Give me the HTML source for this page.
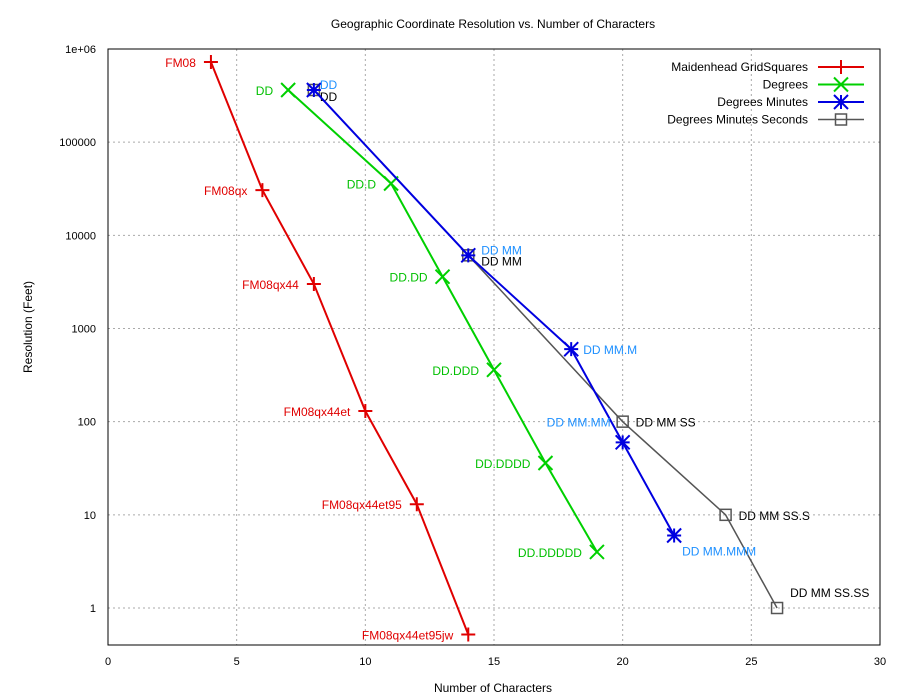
<!DOCTYPE html>
<html><head><meta charset="utf-8"><style>
body{margin:0;background:#fff}
svg{display:block;font-family:"Liberation Sans",sans-serif}
</style></head><body>
<svg id="chart" width="900" height="700">
<rect x="0" y="0" width="900" height="700" fill="#fff"/>
<text x="493" y="28" font-size="12" text-anchor="middle">Geographic Coordinate Resolution vs. Number of Characters</text>
<text x="493" y="692" font-size="12" text-anchor="middle">Number of Characters</text>
<text transform="translate(32,327) rotate(-90)" font-size="12" text-anchor="middle">Resolution (Feet)</text>
<g id="grid"></g><g id="series"></g><g id="legend"></g>
<rect x="108" y="49" width="772" height="596" fill="none" stroke="#000"/>
</svg>
<script>
const xTicks=[0,5,10,15,20,25,30];
const yTicks=[1,10,100,1000,10000,100000,1000000];
const yTickLabels=["1","10","100","1000","10000","100000","1e+06"];
const seriesNames=["Maidenhead GridSquares","Degrees","Degrees Minutes","Degrees Minutes Seconds"];
const redX=[4,6,8,10,12,14];
const redY=[725000,30600,3000,130,13,0.52];
const redLabels=["FM08","FM08qx","FM08qx44","FM08qx44et","FM08qx44et95","FM08qx44et95jw"];
const greenX=[7,11,13,15,17,19];
const greenY=[363000,36000,3600,360,36,4];
const greenLabels=["DD","DD.D","DD.DD","DD.DDD","DD.DDDD","DD.DDDDD"];
const blueX=[8,14,18,20,22];
const blueY=[363000,6100,600,60,6];
const blueLabels=["DD","DD MM","DD MM.M","DD MM.MM","DD MM.MMM"];
const grayX=[8,14,20,24,26];
const grayY=[363000,6100,100,10,1];
const grayLabels=["DD","DD MM","DD MM SS","DD MM SS.S","DD MM SS.SS"];

const L=108,R=880,T=49,B=645;
const xs=v=>L+(v-0)/30*(R-L);
const ys=v=>608-Math.log10(v)*93.17;
const NS="http://www.w3.org/2000/svg";
function mk(tag,attrs,parent,txt){const e=document.createElementNS(NS,tag);for(const k in attrs)e.setAttribute(k,attrs[k]);if(txt!==undefined)e.textContent=txt;parent.appendChild(e);return e;}
const grid=document.getElementById('grid'),ser=document.getElementById('series'),leg=document.getElementById('legend');
xTicks.forEach(t=>{const x=xs(t);
 if(t>0&&t<30){const g=mk('line',{x1:x,x2:x,y1:T,y2:B,stroke:'#aaa','stroke-dasharray':'2,3'},grid);
 
 }
 const tx=mk('text',{x:x,y:B+20,'font-size':11,'text-anchor':'middle'},grid,String(t));
 
 });
yTicks.forEach((t,i)=>{const y=ys(t);
 if(i<6){const g=mk('line',{x1:L,x2:R,y1:y,y2:y,stroke:'#aaa','stroke-dasharray':'2,3'},grid);
 
 }
 const tx=mk('text',{x:L-12,y:y+4,'font-size':11,'text-anchor':'end'},grid,yTickLabels[i]);
 
 });
function marker(type,x,y,c,p){
 const s=7;
 if(type==='plus'){mk('path',{d:`M${x-s} ${y}H${x+s}M${x} ${y-s}V${y+s}`,stroke:c,'stroke-width':2},p);}
 else if(type==='x'){mk('path',{d:`M${x-s} ${y-s}L${x+s} ${y+s}M${x-s} ${y+s}L${x+s} ${y-s}`,stroke:c,'stroke-width':2},p);}
 else if(type==='star'){mk('path',{d:`M${x-s} ${y}H${x+s}M${x} ${y-s}V${y+s}M${x-s} ${y-s}L${x+s} ${y+s}M${x-s} ${y+s}L${x+s} ${y-s}`,stroke:c,'stroke-width':2},p);}
 else{mk('rect',{x:x-5.5,y:y-5.5,width:11,height:11,fill:'none',stroke:c,'stroke-width':1.5},p);}
}
function series(X,Y,labels,color,type,name,labColor,lab){
 const g=mk('g',{},ser);
 
 
 mk('polyline',{points:X.map((v,i)=>xs(v)+','+ys(Y[i])).join(' '),fill:'none',stroke:color,'stroke-width':type==='box'?1.5:2},g);
 X.forEach((v,i)=>{marker(type,xs(v),ys(Y[i]),color,g);
  const o=lab(i);const t=mk('text',{x:xs(v)+o[0],y:ys(Y[i])+o[1],'font-size':12,fill:labColor,'text-anchor':o[2]},g,labels[i]);
  
  });
}
series(redX,redY,redLabels,'#e00000','plus','series-maidenhead','#e00000',()=>[-15,5,'end']);
series(greenX,greenY,greenLabels,'#00d000','x','series-degrees','#00c000',()=>[-15,5,'end']);
series(grayX,grayY,grayLabels,'#555','box','series-dms','#000',i=>i===0?[6,11,'start']:i===1?[13,10,'start']:i===4?[13,-11,'start']:[13,5,'start']);
series(blueX,blueY,blueLabels,'#0000e0','star','series-degrees-minutes','#1e90ff',i=>i===0?[6,-1,'start']:i===1?[13,-1,'start']:i===3?[-12,-16,'end']:i===4?[8,20,'start']:[12,5,'start']);
const lt=[['plus','#e00000'],['x','#00d000'],['star','#0000e0'],['box','#555']];
seriesNames.forEach((n,i)=>{const y=67+i*17.5;const g=mk('g',{},leg);
 
 
 mk('text',{x:808,y:y+4,'font-size':12,'text-anchor':'end'},g,n);
 mk('line',{x1:818,x2:864,y1:y,y2:y,stroke:lt[i][1],'stroke-width':lt[i][0]==='box'?1.5:2},g);
 marker(lt[i][0],841,y,lt[i][1],g);});
</script>
</body></html>
